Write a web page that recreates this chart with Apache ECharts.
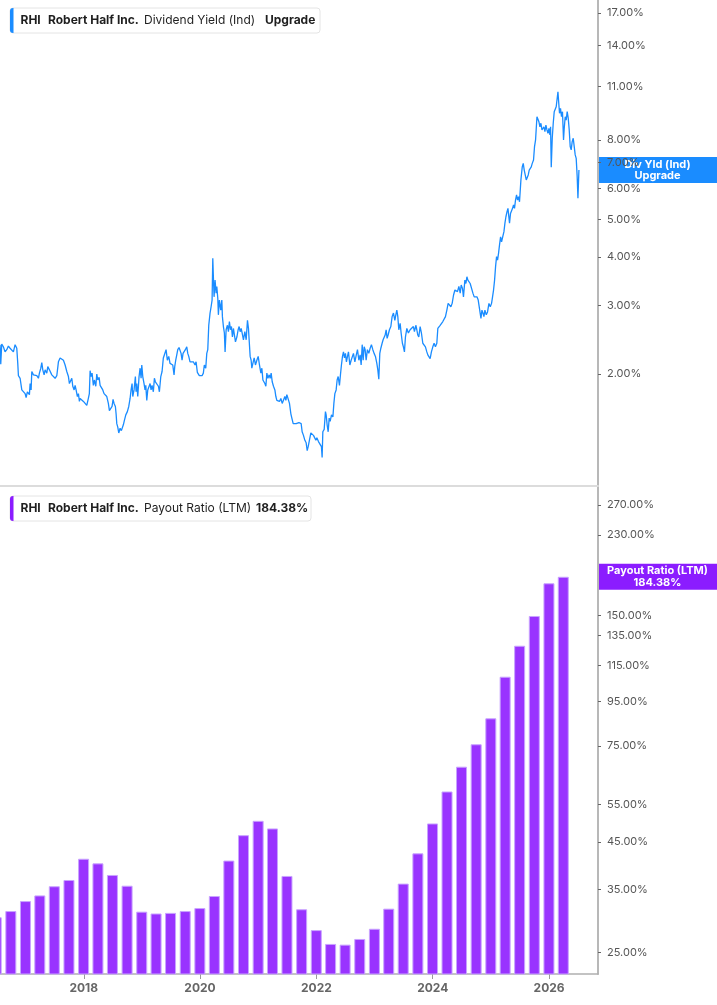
<!DOCTYPE html>
<html>
<head>
<meta charset="utf-8">
<script src="https://cdn.jsdelivr.net/npm/echarts@6/dist/echarts.min.js"></script>
<style>
html,body{margin:0;padding:0;background:#fff;}
#c{width:717px;height:1005px;}
</style>
</head>
<body>
<div id="c"></div>
<script>
// ---------- DATA ----------
const ticker = 'RHI';
const company = 'Robert Half Inc.';
const yieldTitle = 'Dividend Yield (Ind)';
const yieldTag = 'Upgrade';
const yieldBoxLines = ['Div Yld (Ind)', 'Upgrade'];
const payoutTitle = 'Payout Ratio (LTM)';

// dividend yield (%), dates as fractional years
const yieldYears = [
2016.561,2016.573,2016.590,2016.618,2016.647,2016.676,2016.704,2016.733,2016.762,2016.790,2016.819,2016.848,2016.865,2016.876,2016.905,2016.934,2016.962,2016.991,
2017.008,2017.030,2017.048,2017.065,2017.077,2017.094,2017.106,2017.134,2017.163,2017.192,2017.220,2017.237,2017.261,2017.278,2017.295,2017.318,2017.335,2017.364,2017.381,2017.409,2017.433,2017.450,2017.478,2017.507,2017.536,2017.564,2017.593,2017.622,2017.650,2017.679,2017.708,2017.736,2017.753,2017.777,2017.794,2017.811,2017.834,2017.851,2017.868,2017.890,2017.908,2017.925,2017.937,2017.966,2017.994,
2018.023,2018.052,2018.069,2018.079,2018.096,2018.109,2018.126,2018.143,2018.165,2018.183,2018.207,2018.224,2018.241,2018.264,2018.281,2018.298,2018.327,2018.349,2018.372,2018.396,2018.423,2018.441,2018.465,2018.487,2018.504,2018.521,2018.544,2018.556,2018.568,2018.585,2018.602,2018.625,2018.647,2018.671,2018.681,2018.699,2018.723,2018.750,2018.774,2018.797,2018.814,2018.831,2018.843,2018.865,2018.888,2018.900,2018.912,2018.929,2018.951,2018.969,2018.986,2018.998,
2019.015,2019.037,2019.054,2019.067,2019.084,2019.101,2019.118,2019.141,2019.158,2019.175,2019.197,2019.215,2019.232,2019.256,2019.284,2019.301,2019.325,2019.347,2019.369,2019.393,2019.416,2019.438,2019.462,2019.484,2019.507,2019.531,2019.553,2019.565,2019.582,2019.600,2019.617,2019.639,2019.656,2019.674,2019.691,2019.708,2019.730,2019.748,2019.772,2019.789,2019.806,2019.828,2019.858,2019.885,2019.914,2019.932,2019.954,2019.988,
2020.012,2020.035,2020.057,2020.074,2020.098,2020.116,2020.133,2020.150,2020.172,2020.190,2020.207,2020.219,2020.229,2020.241,2020.258,2020.276,2020.288,2020.305,2020.315,2020.332,2020.356,2020.374,2020.384,2020.401,2020.418,2020.430,2020.448,2020.470,2020.487,2020.504,2020.522,2020.539,2020.556,2020.573,2020.590,2020.608,2020.632,2020.654,2020.671,2020.688,2020.706,2020.723,2020.745,2020.769,2020.792,2020.814,2020.831,2020.848,2020.860,2020.877,2020.889,2020.907,2020.929,2020.951,2020.975,2020.998,
2021.020,2021.044,2021.061,2021.079,2021.096,2021.113,2021.130,2021.147,2021.165,2021.187,2021.204,2021.221,2021.239,2021.261,2021.285,2021.302,2021.319,2021.342,2021.364,2021.388,2021.411,2021.433,2021.457,2021.474,2021.491,2021.519,2021.536,2021.560,2021.577,2021.600,2021.629,2021.651,2021.674,2021.698,2021.720,2021.737,2021.754,2021.777,2021.801,2021.823,2021.841,2021.858,2021.880,2021.904,2021.927,2021.949,2021.973,2021.990,
2022.007,2022.035,2022.064,2022.086,2022.098,2022.110,2022.133,2022.155,2022.167,2022.184,2022.202,2022.219,2022.236,2022.259,2022.283,2022.300,2022.317,2022.339,2022.356,2022.374,2022.396,2022.413,2022.430,2022.448,2022.465,2022.482,2022.499,2022.516,2022.534,2022.551,2022.575,2022.597,2022.614,2022.637,2022.661,2022.683,2022.706,2022.730,2022.752,2022.769,2022.787,2022.804,2022.821,2022.838,2022.855,2022.877,2022.901,2022.924,2022.946,2022.970,2022.992,
2023.015,2023.039,2023.056,2023.073,2023.090,2023.108,2023.130,2023.147,2023.164,2023.182,2023.199,2023.216,2023.233,2023.256,2023.280,2023.302,2023.325,2023.349,2023.366,2023.383,2023.400,2023.417,2023.440,2023.457,2023.479,2023.496,2023.514,2023.531,2023.555,2023.582,2023.612,2023.641,2023.668,2023.686,2023.710,2023.727,2023.744,2023.761,2023.784,2023.806,2023.830,2023.853,2023.875,2023.899,2023.916,2023.938,2023.956,2023.978,
2024.002,2024.024,2024.047,2024.071,2024.088,2024.110,2024.128,2024.150,2024.174,2024.197,2024.219,2024.243,2024.265,2024.288,2024.312,2024.334,2024.357,2024.381,2024.403,2024.425,2024.449,2024.472,2024.489,2024.511,2024.528,2024.552,2024.570,2024.587,2024.604,2024.621,2024.643,2024.666,2024.690,2024.712,2024.735,2024.759,2024.781,2024.804,2024.828,2024.845,2024.862,2024.879,2024.896,2024.919,2024.941,2024.965,2024.988,
2025.010,2025.027,2025.044,2025.062,2025.079,2025.096,2025.113,2025.130,2025.147,2025.165,2025.182,2025.206,2025.223,2025.240,2025.257,2025.275,2025.292,2025.309,2025.319,2025.336,2025.354,2025.371,2025.388,2025.405,2025.422,2025.440,2025.457,2025.474,2025.491,2025.515,2025.538,2025.555,2025.572,2025.589,2025.607,2025.624,2025.641,2025.658,2025.675,2025.693,2025.710,2025.732,2025.749,2025.767,2025.791,2025.808,2025.825,2025.842,2025.859,2025.877,2025.894,2025.911,2025.928,2025.945,2025.963,2025.980,2025.997,
2026.014,2026.025,2026.037,2026.054,2026.071,2026.088,2026.105,2026.122,2026.140,2026.152,2026.162,2026.179,2026.196,2026.213,2026.230,2026.248,2026.260,2026.277,2026.294,2026.311,2026.329,2026.346,2026.363,2026.380,2026.397,2026.415,2026.432,2026.449,2026.466,2026.483,2026.496,2026.513
];
const yieldValues = [
2.38,2.12,2.39,2.35,2.28,2.31,2.36,2.33,2.31,2.28,2.38,2.33,2.13,1.98,1.95,1.82,1.80,1.78,
1.74,1.80,1.78,1.77,1.89,1.82,2.03,1.99,2.01,1.98,1.95,2.01,2.07,2.14,2.05,1.99,2.05,2.01,2.09,2.05,2.07,1.99,2.01,1.95,1.98,2.15,2.20,2.21,2.17,2.11,2.03,1.97,1.89,1.87,1.95,1.86,1.82,1.87,1.82,1.75,1.78,1.70,1.73,1.72,1.70,
1.71,1.66,1.65,1.73,1.78,2.04,1.97,2.01,1.87,1.93,1.86,2.00,1.93,1.96,1.87,1.89,1.82,1.78,1.77,1.75,1.68,1.61,1.60,1.65,1.72,1.68,1.65,1.58,1.49,1.46,1.41,1.45,1.43,1.42,1.48,1.52,1.57,1.60,1.65,1.73,1.82,1.89,1.75,1.82,1.97,1.80,1.89,1.75,1.97,2.07,1.95,2.11,
1.97,1.89,1.82,1.87,1.71,1.82,1.84,1.89,1.82,1.87,1.80,1.95,1.91,1.89,1.86,1.80,1.97,2.03,2.20,2.22,2.31,2.17,2.22,2.13,2.15,2.11,1.99,2.09,2.17,2.24,2.31,2.34,2.35,2.26,2.17,2.26,2.28,2.31,2.35,2.26,2.22,2.15,2.13,2.15,2.11,2.15,2.02,1.98,
1.96,1.98,2.01,2.11,2.07,2.26,2.31,2.67,2.87,2.98,3.10,3.97,3.56,3.16,3.49,3.23,3.36,3.13,2.84,3.10,2.92,3.10,2.81,2.65,2.55,2.28,2.60,2.67,2.57,2.73,2.60,2.65,2.49,2.62,2.52,2.42,2.49,2.60,2.65,2.57,2.62,2.55,2.45,2.57,2.45,2.75,2.62,2.60,2.22,2.17,2.07,2.13,2.20,2.11,2.17,2.22,
2.11,2.01,2.07,1.93,1.95,1.89,1.86,2.01,1.95,1.99,1.95,2.01,1.91,1.86,1.82,1.75,1.71,1.73,1.70,1.73,1.68,1.70,1.75,1.71,1.77,1.78,1.68,1.58,1.54,1.49,1.48,1.49,1.48,1.50,1.51,1.49,1.42,1.39,1.35,1.33,1.27,1.30,1.30,1.41,1.42,1.39,1.38,1.35,
1.37,1.34,1.35,1.30,1.22,1.42,1.44,1.60,1.57,1.48,1.42,1.54,1.51,1.57,1.55,1.68,1.78,1.82,1.93,1.97,1.87,1.99,2.11,2.22,2.28,2.20,2.26,2.15,2.22,2.28,2.11,2.17,2.15,2.26,2.15,2.23,2.31,2.17,2.24,2.11,2.38,2.17,2.35,2.31,2.17,2.31,2.26,2.33,2.38,2.31,2.26,
2.22,2.13,2.05,1.94,2.26,2.33,2.40,2.45,2.47,2.52,2.60,2.47,2.52,2.60,2.65,2.81,2.87,2.75,2.84,2.92,2.81,2.60,2.70,2.55,2.40,2.35,2.28,2.49,2.62,2.55,2.60,2.57,2.65,2.57,2.67,2.60,2.52,2.49,2.65,2.55,2.40,2.38,2.35,2.28,2.24,2.22,2.19,2.28,
2.35,2.40,2.35,2.40,2.62,2.65,2.67,2.65,2.73,2.70,2.81,2.92,3.04,3.01,2.98,3.04,3.19,3.29,3.32,3.26,3.36,3.23,3.39,3.32,3.16,3.49,3.42,3.56,3.49,3.46,3.42,3.46,3.23,3.16,3.13,3.16,3.10,3.07,2.78,2.92,2.87,2.81,2.92,2.84,2.89,3.04,2.98,
3.04,3.16,3.29,3.49,3.78,4.01,3.93,4.09,4.30,4.51,4.38,4.34,4.65,4.89,5.08,5.23,5.34,5.39,4.89,5.18,5.23,5.34,5.45,5.34,5.61,5.78,5.61,5.72,5.55,6.32,6.83,6.97,6.70,6.51,6.32,6.38,6.51,6.70,6.77,6.83,6.97,7.11,7.70,8.01,9.19,9.11,8.92,8.66,8.84,8.50,8.58,8.66,8.41,8.75,8.50,8.33,8.58,
8.25,8.66,6.81,8.09,8.84,9.47,9.38,9.75,9.85,10.66,10.15,9.38,9.66,9.19,9.47,8.01,8.58,9.19,9.01,9.47,9.11,8.50,7.70,7.55,7.93,8.09,7.70,7.33,7.18,6.44,5.67,6.70
];

// payout ratio (LTM, %), quarterly
const payoutDates = [
'2016-06-30','2016-09-30','2016-12-31','2017-03-31','2017-06-30','2017-09-30','2017-12-31','2018-03-31',
'2018-06-30','2018-09-30','2018-12-31','2019-03-31','2019-06-30','2019-09-30','2019-12-31','2020-03-31',
'2020-06-30','2020-09-30','2020-12-31','2021-03-31','2021-06-30','2021-09-30','2021-12-31','2022-03-31',
'2022-06-30','2022-09-30','2022-12-31','2023-03-31','2023-06-30','2023-09-30','2023-12-31','2024-03-31',
'2024-06-30','2024-09-30','2024-12-31','2025-03-31','2025-06-30','2025-09-30','2025-12-31','2026-03-31'
];
const payoutValues = [
30.2,31.2,32.9,33.9,35.6,36.8,41.2,40.2,
37.8,35.7,31.1,30.8,30.9,31.2,31.7,33.8,
40.8,46.7,50.4,48.4,37.6,31.5,28.2,26.2,
26.1,26.9,28.4,31.6,36.1,42.4,49.7,58.9,
67.2,75.7,86.9,108.4,127.8,149.7,178.1,184.38
];

// axis ticks
const yieldTicks = [2, 3, 4, 5, 6, 7, 8, 11, 14, 17];
const payoutTicks = [25, 35, 45, 55, 75, 95, 115, 135, 150, 230, 270];
const yearTicks = ['2018-01-01', '2020-01-01', '2022-01-01', '2024-01-01', '2026-01-01'];
const xRange = ['2016-07-24', '2026-11-04'];
const yieldRange = [1.0297, 18.36];
const payoutRange = [22.33, 297.1];

// ---------- STYLE ----------
const FONT = 'Inter, "Noto Sans", sans-serif';
const BLUE = '#1a8cff';
const PURPLE_BAR = '#9933ff';
const PURPLE = '#8b1cff';

function parseDate(s) {
  const p = s.split('-').map(Number);
  return new Date(p[0], p[1] - 1, p[2]).getTime();
}
function fracYearToTime(f) {
  const y = Math.floor(f);
  const a = new Date(y, 0, 1).getTime();
  const b = new Date(y + 1, 0, 1).getTime();
  return a + (f - y) * (b - a);
}
const lineData = yieldYears.map((t, i) => [fracYearToTime(t), yieldValues[i]]);
const barData = payoutDates.map((d, i) => [parseDate(d), payoutValues[i]]);
const yearTickTimes = yearTicks.map(parseDate);
const xMin = parseDate(xRange[0]);
const xMax = parseDate(xRange[1]);

const pctLabel = v => Number(v).toFixed(2) + '%';

const yAxisCommon = {
  position: 'right',
  axisLine: { show: true, lineStyle: { color: '#b8b8b8', width: 2 } },
  splitLine: { show: false },
  minorTick: { show: false },
  minorSplitLine: { show: false }
};

const option = {
  animation: false,
  backgroundColor: '#ffffff',
  grid: [
    { left: 0, right: 119, top: 0, height: 486 },
    { left: 0, right: 119, top: 487, height: 487 }
  ],
  xAxis: [
    {
      type: 'value', gridIndex: 0, min: xMin, max: xMax, scale: true,
      axisLine: { show: true, onZero: false, lineStyle: { color: '#dcdcdc', width: 2 } },
      axisTick: { show: false }, axisLabel: { show: false }, splitLine: { show: false }
    },
    {
      type: 'value', gridIndex: 1, min: xMin, max: xMax, scale: true,
      axisLine: { show: true, onZero: false, lineStyle: { color: '#b0b0b0', width: 1.5 } },
      axisTick: { show: true, customValues: yearTickTimes, length: 5, lineStyle: { color: '#9a9a9a', width: 1 } },
      axisLabel: {
        customValues: yearTickTimes,
        formatter: v => String(new Date(v).getFullYear()),
        color: '#666', fontWeight: 'bold', fontSize: 12, fontFamily: FONT, margin: 8
      },
      splitLine: { show: false }
    }
  ],
  yAxis: [
    Object.assign({}, yAxisCommon, {
      type: 'log', gridIndex: 0, min: yieldRange[0], max: yieldRange[1],
      axisTick: { show: true, customValues: yieldTicks, length: 3, lineStyle: { color: '#666' } },
      axisLabel: { customValues: yieldTicks, formatter: pctLabel, color: '#555', fontSize: 11, fontFamily: FONT, margin: 9 }
    }),
    Object.assign({}, yAxisCommon, {
      type: 'log', gridIndex: 1, min: payoutRange[0], max: payoutRange[1],
      axisTick: { show: true, customValues: payoutTicks, length: 3, lineStyle: { color: '#666' } },
      axisLabel: { customValues: payoutTicks, formatter: pctLabel, color: '#555', fontSize: 11, fontFamily: FONT, margin: 9 }
    })
  ],
  series: [
    {
      type: 'line', xAxisIndex: 0, yAxisIndex: 0, data: lineData,
      showSymbol: false, symbol: 'none', clip: true,
      lineStyle: { color: BLUE, width: 1.3 }
    },
    {
      type: 'bar', xAxisIndex: 1, yAxisIndex: 1, data: barData, clip: true,
      barWidth: 11,
      itemStyle: { color: PURPLE_BAR, borderColor: '#c8a3ff', borderWidth: 1 }
    }
  ]
};

const chart = echarts.init(document.getElementById('c'), null, { renderer: 'canvas' });
chart.setOption(option);

function legendBox(y, w, color, parts) {
  const children = [
    { type: 'rect', shape: { x: 10, y: y, width: w, height: 25, r: 3 },
      style: { fill: '#fff', stroke: '#e4e4e4', lineWidth: 1 } },
    { type: 'rect', shape: { x: 10, y: y, width: 3.5, height: 25, r: [3, 0, 0, 3] },
      style: { fill: color } }
  ];
  parts.forEach(p => children.push({
    type: 'text',
    style: { x: p.x, y: y + 12.5, text: p.text, font: (p.bold ? 'bold ' : '') + '12px ' + FONT,
             fill: '#1f1f1f', align: 'left', verticalAlign: 'middle' }
  }));
  return { type: 'group', z: 100, children: children };
}

function valueBox(py, color, text) {
  return {
    type: 'group', z: 100,
    children: [
      { type: 'rect', shape: { x: 598, y: py - 13, width: 119, height: 26 }, style: { fill: color } },
      { type: 'text', style: { x: 657.5, y: py, text: text, font: 'bold 11px ' + FONT, fill: '#fff',
          align: 'center', verticalAlign: 'middle', lineHeight: 11.5 } }
    ]
  };
}

const pyYield = chart.convertToPixel({ yAxisIndex: 0 }, yieldValues[yieldValues.length - 1]);
const pyPayout = chart.convertToPixel({ yAxisIndex: 1 }, payoutValues[payoutValues.length - 1]);

chart.setOption({
  graphic: [
    legendBox(8, 310, BLUE, [
      { x: 20.5, text: ticker, bold: true },
      { x: 48, text: company, bold: true },
      { x: 144, text: yieldTitle, bold: false },
      { x: 265, text: yieldTag, bold: true }
    ]),
    legendBox(496, 301, PURPLE, [
      { x: 20.5, text: ticker, bold: true },
      { x: 48, text: company, bold: true },
      { x: 144, text: payoutTitle, bold: false },
      { x: 256, text: pctLabel(payoutValues[payoutValues.length - 1]), bold: true }
    ]),
    valueBox(pyYield, BLUE, yieldBoxLines.join('\n')),
    valueBox(pyPayout, PURPLE, payoutTitle + '\n' + pctLabel(payoutValues[payoutValues.length - 1]))
  ]
});
</script>
</body>
</html>
